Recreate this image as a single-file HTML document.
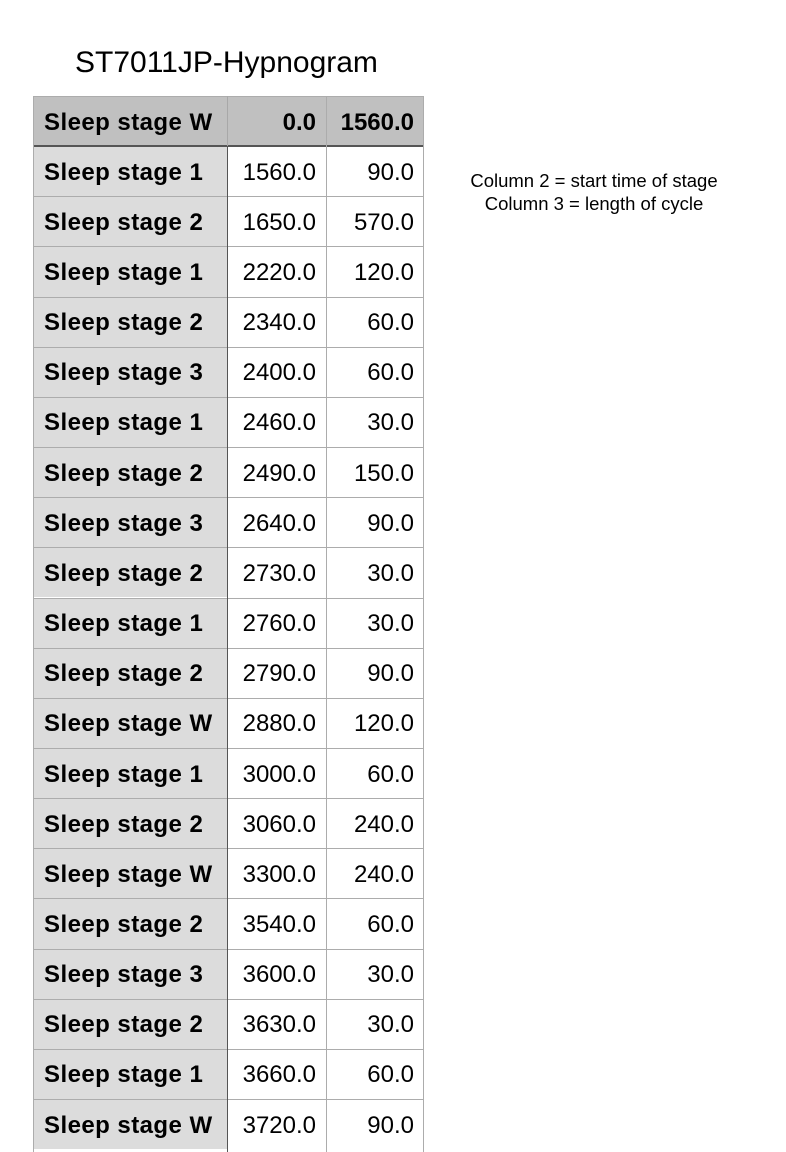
<!DOCTYPE html>
<html><head><meta charset="utf-8"><style>
body{margin:0;width:786px;height:1152px;background:#fff;overflow:hidden;position:relative;font-family:"Liberation Sans",Arial,sans-serif;}
#title{position:absolute;left:75px;top:45px;font-size:30px;line-height:36px;color:#000;white-space:nowrap;}
.note{position:absolute;left:434px;width:320px;text-align:center;font-size:18.5px;line-height:23px;color:#000;}
.cell{position:absolute;box-sizing:border-box;font-size:24px;display:flex;align-items:center;white-space:nowrap;padding-top:3px;}
.c0{font-weight:bold;background:#dcdcdc;padding-left:11px;letter-spacing:0.45px;}
.c1,.c2{justify-content:flex-end;padding-right:10px;background:#fff;}
.hdr{background:#c0c0c0 !important;font-weight:bold;}
.hl{position:absolute;height:1px;background:#acacac;}
.vl{position:absolute;width:1px;background:#acacac;}
</style></head><body>
<div id="title">ST7011JP-Hypnogram</div>
<div class="note" style="top:169px">Column 2 = start time of stage</div>
<div class="note" style="top:192px">Column 3 = length of cycle</div>
<div id="tbl"></div>
<script>
const stages=["Sleep stage W","Sleep stage 1","Sleep stage 2","Sleep stage 1","Sleep stage 2","Sleep stage 3","Sleep stage 1","Sleep stage 2","Sleep stage 3","Sleep stage 2","Sleep stage 1","Sleep stage 2","Sleep stage W","Sleep stage 1","Sleep stage 2","Sleep stage W","Sleep stage 2","Sleep stage 3","Sleep stage 2","Sleep stage 1","Sleep stage W"];
const starts=[0,1560,1650,2220,2340,2400,2460,2490,2640,2730,2760,2790,2880,3000,3060,3300,3540,3600,3630,3660,3720];
const lengths=[1560,90,570,120,60,60,30,150,90,30,30,90,120,60,240,240,60,30,30,60,90];
const tbl=document.getElementById('tbl');
const top0=96,rowH=50.15,xs=[33,227,326,424];
for(let i=0;i<stages.length;i++){
  const y=top0+i*rowH;
  const vals=[stages[i],starts[i].toFixed(1),lengths[i].toFixed(1)];
  for(let c=0;c<3;c++){
    const d=document.createElement('div');
    d.className='cell c'+c+(i===0?' hdr':'');
    d.style.left=xs[c]+'px';d.style.top=y+'px';
    d.style.width=(xs[c+1]-xs[c])+'px';d.style.height=rowH+'px';
    d.textContent=vals[c];
    
    
    tbl.appendChild(d);
  }
  const l=document.createElement('div');
  l.className='hl';l.style.left=xs[0]+'px';l.style.width=(xs[3]-xs[0])+'px';l.style.top=y+'px';
  
  
  tbl.appendChild(l);
}
const hb=document.createElement('div');
hb.className='hl';hb.style.left='33px';hb.style.width='391px';hb.style.top=(top0+rowH-1)+'px';hb.style.height='2px';hb.style.background='#555';


tbl.appendChild(hb);
[33,227,326,423].forEach((x,k)=>{
  const v=document.createElement('div');
  v.className='vl';v.style.left=x+'px';v.style.top=top0+'px';v.style.height=(1152-top0)+'px';
  if(k===1){v.style.background='#555';v.style.top=(top0+rowH)+'px';v.style.height=(1152-top0-rowH)+'px';}
  
  
  tbl.appendChild(v);
});
const hv=document.createElement('div');
hv.className='vl';hv.style.left='227px';hv.style.top=top0+'px';hv.style.height=rowH+'px';hv.style.background='#a8a8a8';


tbl.appendChild(hv);
</script>
</body></html>
